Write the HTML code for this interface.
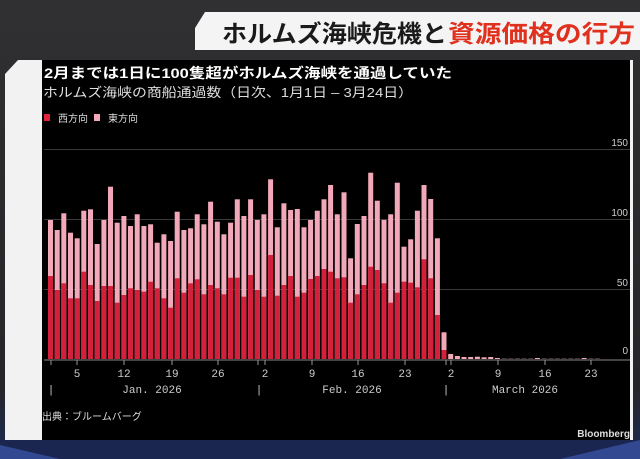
<!DOCTYPE html>
<html><head><meta charset="utf-8"><style>
html,body{margin:0;padding:0;background:#2a2a2c;width:640px;height:459px;overflow:hidden}
svg{display:block}
text{font-family:"Liberation Sans","Noto Sans CJK JP",sans-serif}
.m{font-family:"Liberation Mono","DejaVu Sans Mono",monospace}
</style></head><body>
<svg id="s" width="640" height="459" viewBox="0 0 640 459" xmlns="http://www.w3.org/2000/svg">
<defs>
<linearGradient id="bg" x1="0" y1="0" x2="0" y2="1">
<stop offset="0" stop-color="#303032"/><stop offset="0.85" stop-color="#26262a"/><stop offset="1" stop-color="#1b2a55"/>
</linearGradient>
</defs>
<rect width="640" height="459" fill="url(#bg)"/>
<rect x="0" y="440" width="640" height="19" fill="#1a2650"/>
<path d="M0 445 L60 459 L0 459Z" fill="#4a6ad0" opacity="0.5"/>
<path d="M640 440 L560 459 L640 459Z" fill="#4a6ad0" opacity="0.5"/>
<!-- banner -->
<path d="M205 12 L640 12 L640 50 L195 50 L195 28 Z" fill="#f4f4f4"/>
<text x="222" y="42" font-size="24" font-weight="bold" fill="#1a1a1a" textLength="225" lengthAdjust="spacingAndGlyphs">ホルムズ海峡危機と</text>
<text x="448" y="42" font-size="24" font-weight="bold" fill="#e0301e" textLength="187" lengthAdjust="spacingAndGlyphs">資源価格の行方</text>
<!-- panel -->
<path d="M18 60 L633 60 L633 440 L5 440 L5 74 Z" fill="#f2f2f2"/>
<rect x="42" y="60" width="588" height="380" fill="#000"/>
<text x="44" y="78" font-size="14" font-weight="bold" fill="#fff" textLength="408" lengthAdjust="spacingAndGlyphs">2月までは1日に100隻超がホルムズ海峡を通過していた</text>
<text x="43" y="97" font-size="13" fill="#ddd" textLength="370" lengthAdjust="spacingAndGlyphs">ホルムズ海峡の商船通過数（日次、1月1日 – 3月24日）</text>
<rect x="44" y="114" width="6" height="7" fill="#e0223c"/>
<text x="58" y="122" font-size="10" fill="#ddd">西方向</text>
<rect x="94" y="114" width="6" height="7" fill="#f2a8b8"/>
<text x="108" y="122" font-size="10" fill="#ddd">東方向</text>
<g stroke="#3a3a3a" stroke-width="1">
<line x1="44" y1="149.5" x2="630" y2="149.5"/>
<line x1="44" y1="219.5" x2="630" y2="219.5"/>
<line x1="44" y1="289.5" x2="630" y2="289.5"/>
</g>
<g font-size="10" fill="#ccc" text-anchor="end">
<text x="628" y="146">150</text><text x="628" y="216">100</text><text x="628" y="286">50</text><text x="628" y="354">0</text>
</g>
<g id="bars"></g>
<line x1="44" y1="360" x2="630" y2="360" stroke="#888" stroke-width="1"/>
<g id="ticks" stroke="#999" stroke-width="1"></g>
<g class="m" font-size="11" fill="#ccc" text-anchor="middle">
<text class="m" x="77" y="377">5</text><text class="m" x="124" y="377">12</text><text class="m" x="172" y="377">19</text><text class="m" x="218" y="377">26</text>
<text class="m" x="265" y="377">2</text><text class="m" x="312" y="377">9</text><text class="m" x="358" y="377">16</text><text class="m" x="405" y="377">23</text>
<text class="m" x="451" y="377">2</text><text class="m" x="498" y="377">9</text><text class="m" x="545" y="377">16</text><text class="m" x="591" y="377">23</text>
<text class="m" x="51" y="393">|</text><text class="m" x="259" y="393">|</text><text class="m" x="446" y="393">|</text>
<text class="m" x="152" y="393">Jan. 2026</text><text class="m" x="352" y="393">Feb. 2026</text><text class="m" x="525" y="393">March 2026</text>
</g>
<text x="42" y="420" font-size="10" fill="#ddd">出典：ブルームバーグ</text>
<text x="630" y="437" font-size="10" font-weight="bold" fill="#ddd" text-anchor="end">Bloomberg</text>
</svg>
<script>
var d=[[150,318],[180,360],[130,340],[188,385],[205,385],[122,305],[118,345],[222,393],[150,348],[50,348],[158,398],[138,375],[168,355],[133,360],[168,365],[163,335],[218,355],[193,385],[213,413],[125,325],[180,368],[175,340],[133,328],[163,373],[95,345],[155,355],[193,373],[158,323],[88,323],[138,380],[88,315],[150,360],[133,380],[28,255],[172,377],[100,345],[120,318],[117,380],[172,368],[150,327],[122,318],[88,297],[45,305],[133,325],[67,322],[8,290],[162,373],[138,345],[8,290],[92,300],[150,340],[133,398],[38,368],[230,335],[208,338],[122,352],[45,268],[87,325],[205,435],[487,540]];
d[45]=[265,398];
var small=[552,558,561,561,560,562,561,564,566,566,566,566,566,564,566,566,566,566,566,566,564,566,566];
var g=document.getElementById('bars'),t=document.getElementById('ticks'),ns='http://www.w3.org/2000/svg',s='';
function r(x,y,h,c){return '<rect x="'+x.toFixed(1)+'" y="'+y.toFixed(1)+'" width="5" height="'+h.toFixed(1)+'" fill="'+c+'"/>';}
var B=359;
for(var i=0;i<d.length;i++){var x=50.5+i*6.67-2.5;var tp=170+d[i][0]/3,tr=170+d[i][1]/3;
s+=r(x,tp,B-tp,'#f2a8b8');s+=r(x,tr,B-tr,'#d4203a');}
for(var j=0;j<small.length;j++){var x=50.5+(60+j)*6.67-2.5;var tp=170+small[j]/3;if(B-tp>0.3)s+=r(x,tp,B-tp,'#f2a8b8');}
g.innerHTML=s;
var ts='';var tx=[51,77,124,172,218,258,265,312,358,405,446,451,498,545,591];
for(var k=0;k<tx.length;k++)ts+='<line x1="'+tx[k]+'" y1="360" x2="'+tx[k]+'" y2="365"/>';
t.innerHTML=ts;
</script>
</body></html>
